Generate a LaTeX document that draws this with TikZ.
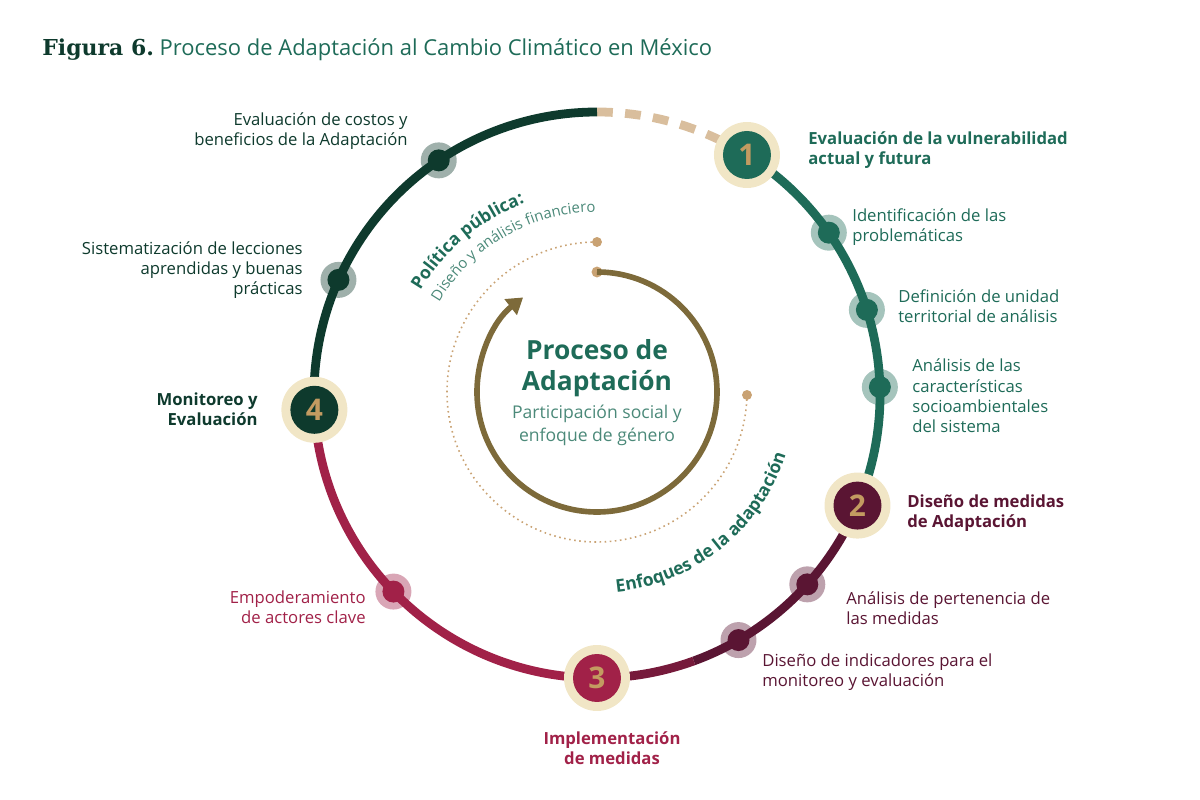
\documentclass[tikz,border=0pt]{standalone}
\usepackage{fontspec}
\setmainfont{Open Sans}
\newfontfamily\titlefont{DejaVu Serif}
\usetikzlibrary{arrows.meta,decorations.text}
\definecolor{pgreen}{HTML}{1E6B58}
\definecolor{pdark}{HTML}{0E3A2D}
\definecolor{pmaroon}{HTML}{5A1533}
\definecolor{pcrimson}{HTML}{A12148}
\definecolor{phalo}{HTML}{F1E6C6}
\definecolor{pgold}{HTML}{C39B61}
\definecolor{pbrown}{HTML}{7D6A3A}
\definecolor{pdot}{HTML}{C9A273}
\tikzstyle{halo}=[circle,fill=phalo,minimum size=1.32cm,inner sep=0pt]
\tikzstyle{num}=[circle,minimum size=0.96cm,inner sep=0pt,text=pgold,
  font=\fontsize{17}{17}\selectfont\bfseries]
\tikzstyle{sh}=[circle,minimum size=0.72cm,inner sep=0pt,opacity=0.4]
\tikzstyle{sd}=[circle,minimum size=0.44cm,inner sep=0pt]
\tikzstyle{lbl}=[font=\fontsize{9.5}{11.5}\selectfont,inner sep=0pt]
\tikzstyle{blbl}=[font=\fontsize{9.5}{11.5}\selectfont\bfseries,inner sep=0pt]
\tikzstyle{ring}=[line width=5pt]
\begin{document}
\begin{tikzpicture}[x=0.02cm,y=0.02cm]
  \useasboundingbox (-597,-405) rectangle (603,395);
  % title
  \node [anchor=west,inner sep=0pt] (title) at (-555,345)
    {\fontsize{12.5}{14}\selectfont{\titlefont\bfseries\color{pdark}Figura 6.}~\color{pgreen}Proceso de Adaptación al Cambio Climático en México};
  % ring
  \coordinate (c1) at (58:283);
  \coordinate (c2) at (-23:283);
  \coordinate (c3) at (-90:283);
  \coordinate (c4) at (183:283);
  \coordinate (top) at (90:283);
  \draw [ring,pdot!70,dash pattern=on 9pt off 7pt] (top) arc (90:60:283);
  \draw [ring,pgreen] (c1) arc (58:-23:283);
  \draw [ring,pmaroon] (c2) arc (-23:-70:283);
  \draw [ring,pmaroon!60!pcrimson] (-70:283) arc (-70:-90:283);
  \draw [ring,pcrimson] (c3) arc (-90:-177:283);
  \draw [ring,pdark] (c4) arc (183:90:283);
  % small dots
  \node [sh,fill=pdark] at (124:283) {};   \node [sd,fill=pdark] (d1) at (124:283) {};
  \node [sh,fill=pdark] at (156:283) {};   \node [sd,fill=pdark] (d2) at (156:283) {};
  \node [sh,fill=pgreen] at (35:283) {};   \node [sd,fill=pgreen] (d3) at (35:283) {};
  \node [sh,fill=pgreen] at (17.5:283) {}; \node [sd,fill=pgreen] (d4) at (17.5:283) {};
  \node [sh,fill=pgreen] at (1.6:283) {};  \node [sd,fill=pgreen] (d5) at (1.6:283) {};
  \node [sh,fill=pmaroon] at (-42:283) {}; \node [sd,fill=pmaroon] (d6) at (-42:283) {};
  \node [sh,fill=pmaroon] at (-60:283) {}; \node [sd,fill=pmaroon] (d7) at (-60:283) {};
  \node [sh,fill=pcrimson] at (224:283) {};\node [sd,fill=pcrimson] (d8) at (224:283) {};
  % numbered steps
  \node [halo] at (c1) {}; \node [num,fill=pgreen] (n1) at (c1) {1};
  \node [halo] at (c2) {}; \node [num,fill=pmaroon] (n2) at (c2) {2};
  \node [halo] at (c3) {}; \node [num,fill=pcrimson] (n3) at (c3) {3};
  \node [halo] at (c4) {}; \node [num,fill=pdark] (n4) at (c4) {4};
  % labels
  \node [lbl,anchor=east,align=right,text=pdark] (l1) at (-189,264) {Evaluación de costos y\\beneficios de la Adaptación};
  \node [lbl,anchor=east,align=right,text=pdark] (l2) at (-294,125) {Sistematización de lecciones\\aprendidas y buenas\\prácticas};
  \node [blbl,anchor=east,align=right,text=pdark] (l3) at (-339,-14) {Monitoreo y\\Evaluación};
  \node [blbl,anchor=west,align=left,text=pgreen] (l4) at (211,245) {Evaluación de la vulnerabilidad\\actual y futura};
  \node [lbl,anchor=west,align=left,text=pgreen] (l5) at (255,168) {Identificación de las\\problemáticas};
  \node [lbl,anchor=west,align=left,text=pgreen] (l6) at (301,89) {Definición de unidad\\territorial de análisis};
  \node [lbl,anchor=west,align=left,text=pgreen] (l7) at (315,-1) {Análisis de las\\características\\socioambientales\\del sistema};
  \node [blbl,anchor=west,align=left,text=pmaroon] (l8) at (310,-118) {Diseño de medidas\\de Adaptación};
  \node [lbl,anchor=west,align=left,text=pmaroon] (l9) at (249,-213) {Análisis de pertenencia de\\las medidas};
  \node [lbl,anchor=west,align=left,text=pmaroon] (l10) at (165,-277) {Diseño de indicadores para el\\monitoreo y evaluación};
  \node [blbl,align=center,text=pcrimson] (l11) at (15,-353) {Implementación\\de medidas};
  \node [lbl,anchor=east,align=right,text=pcrimson] (l12) at (-231,-212) {Empoderamiento\\de actores clave};
  % centre
  \node [align=center,text=pgreen,font=\fontsize{15}{18}\selectfont\bfseries] (ctr) at (0,27) {Proceso de\\Adaptación};
  \node [align=center,text=pgreen!80,font=\fontsize{10}{13}\selectfont] (sub) at (0,-30) {Participación social y\\enfoque de género};
  % inner spiral
  \node [circle,fill=pdot,inner sep=2.2pt] (s0) at (90:123) {};
  \draw [line width=3.2pt,pbrown,-{Triangle[length=9pt,width=11pt]}] (s0) arc (90:-232:120);
  \node [circle,fill=pdot,inner sep=2pt] (s1) at (90:153) {};
  \node [circle,fill=pdot,inner sep=2pt] (s2) at (0:150) {};
  \draw [pdot,line width=0.9pt,dotted] (s1) arc (90:360:150);
  % curved texts
  \path [postaction={decorate},decoration={text along path,text align=center,
    text={|\fontsize{10}{10}\selectfont\bfseries\color{pgreen}|Política pública:}}]
    (155:205) arc (155:105:205);
  \path [postaction={decorate},decoration={text along path,text align=center,
    text={|\fontsize{8.5}{8.5}\selectfont\color{pgreen!80}|Diseño y análisis financiero}}]
    (160:183) arc (160:80:183);
  \path [postaction={decorate},decoration={text along path,text align=center,
    text={|\fontsize{10}{10}\selectfont\bfseries\color{pgreen}|Enfoques de la adaptación}}]
    (-92:198) arc (-92:-10:198);
\end{tikzpicture}
\end{document}
